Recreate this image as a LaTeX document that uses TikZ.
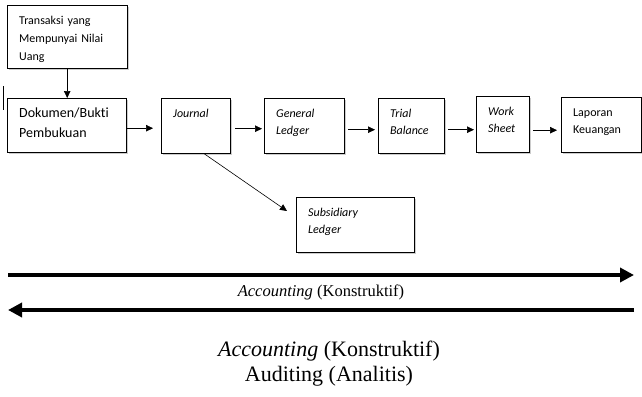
\documentclass[tikz,border=0pt]{standalone}
\usepackage{fontspec}
\setmainfont{Liberation Serif}
\newfontfamily\boxfont[Ligatures=NoCommon]{Carlito}
\usetikzlibrary{arrows.meta,shadows}

\begin{document}
\begin{tikzpicture}[x=1pt,y=-1pt,
  nd/.style={draw=black,fill=white,anchor=north west,
             drop shadow={shadow xshift=2pt,shadow yshift=-2pt,fill=black!40},
             font=\boxfont\fontsize{12}{17}\selectfont,
             align=left,inner xsep=12pt,inner ysep=0pt,text height=19pt},
  it/.style={font=\boxfont\itshape\fontsize{12}{17}\selectfont},
  ar/.style={-{Triangle[length=7pt,width=6.5pt]},semithick},
  big/.style={-{Triangle[length=14pt,width=14pt]},line width=4.5pt},
]
  \useasboundingbox (0,0) rectangle (642,396);

  \node[nd,text width=96pt,text depth=44pt,
        font=\boxfont\fontsize{12}{18}\selectfont](trans) at (7,5)
    {Transaksi yang\\Mempunyai Nilai\\Uang};
  \node[nd,text width=95pt,text depth=35pt,
        font=\boxfont\fontsize{14}{20}\selectfont](dok) at (7,98)
    {Dokumen/Bukti\\Pembukuan};
  \node[nd,it,text width=45pt,text depth=36pt](jour) at (161,98)
    {Journal};
  \node[nd,it,text width=56pt,text depth=36pt](gl) at (264,98)
    {General\\Ledger};
  \node[nd,it,text width=42pt,text depth=36pt](tb) at (378,98)
    {Trial\\Balance};
  \node[nd,it,text width=29pt,text depth=37pt](ws) at (476,96)
    {Work\\Sheet};
  \node[nd,text width=56pt,text depth=36pt](lap) at (561,97)
    {Laporan\\Keuangan};
  \node[nd,it,text width=94pt,text depth=36pt](sub) at (296,197)
    {Subsidiary\\Ledger};

  \draw[ar](trans.south)--(trans.south |- dok.north);
  \draw[ar,shorten <=1pt,shorten >=8pt]([yshift=-3pt]dok.east)--([yshift=-3pt]dok.east -| jour.west);
  \draw[ar,shorten <=5pt,shorten >=2pt]([yshift=-3pt]jour.east)--([yshift=-3pt]jour.east -| gl.west);
  \draw[ar,shorten <=4pt,shorten >=3pt]([yshift=-4pt]gl.east)--([yshift=-4pt]gl.east -| tb.west);
  \draw[ar,shorten <=4pt,shorten >=2pt]([yshift=-4pt]tb.east)--([yshift=-4pt]tb.east -| ws.west);
  \draw[ar,shorten <=4pt,shorten >=4pt]([yshift=-6pt]ws.east)--([yshift=-6pt]ws.east -| lap.west);
  \draw[ar]([xshift=8pt]jour.south)--([xshift=-9pt,yshift=-14pt]sub.north west);

  \draw[thin](3,86)--(3,110);

  \coordinate(ac1) at (8,275);
  \coordinate(ac2) at (634,275);
  \coordinate(au1) at (634,310);
  \coordinate(au2) at (8,310);
  \draw[big](ac1)--(ac2);
  \draw[big](au1)--(au2);
  \node[font=\fontsize{16.5}{18}\selectfont](lblmid) at (321,292)
    {\textit{Accounting} (Konstruktif)};
  \node[font=\fontsize{22}{25}\selectfont,align=center](lblbot) at (329,364)
    {\textit{Accounting} (Konstruktif)\\Auditing (Analitis)};
\end{tikzpicture}
\end{document}
